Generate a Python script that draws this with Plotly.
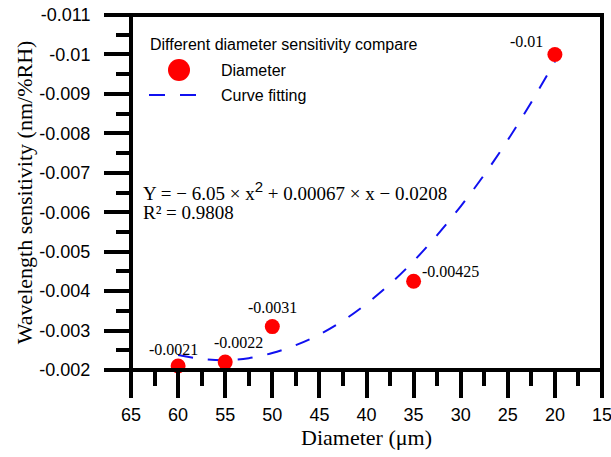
import plotly.graph_objects as go

# ---- data ----
diameter = [60, 55, 50, 35, 20]
sensitivity = [-0.0021, -0.0022, -0.0031, -0.00425, -0.01]
point_labels = ["-0.0021", "-0.0022", "-0.0031", "-0.00425", "-0.01"]

fit_x = [60, 57.5, 55, 52.5, 50, 47.5, 45, 42.5, 40, 37.5, 35, 32.5, 30, 27.5, 25, 22.5, 20]
fit_y = [-0.00238, -0.00228, -0.00225, -0.00230, -0.00243, -0.00263, -0.00290, -0.00325,
         -0.00368, -0.00418, -0.00476, -0.00542, -0.00615, -0.00695, -0.00783, -0.00879, -0.00982]

x_ticks = [65, 60, 55, 50, 45, 40, 35, 30, 25, 20, 15]
y_ticks = [-0.011, -0.010, -0.009, -0.008, -0.007, -0.006, -0.005, -0.004, -0.003, -0.002]
y_ticktext = ["-0.011", "-0.01", "-0.009", "-0.008", "-0.007", "-0.006", "-0.005", "-0.004", "-0.003", "-0.002"]

SERIF = "Liberation Serif, Times New Roman, serif"
SANS = "Liberation Sans, Arial, sans-serif"
RED = "#ff0000"
BLUE = "#1010f0"

# plot area in page pixels (reference): left 131, right 602, top 15, bottom 370
W, H = 611, 457
PL, PR, PT, PB = 131, 602, 15, 370
PW, PH = PR - PL, PB - PT

def px_x(p):
    return (p - PL) / PW
def px_y(p):
    return (PB - p) / PH

fig = go.Figure()
fig.add_trace(go.Scatter(x=fit_x, y=fit_y, mode="lines", line=dict(color=BLUE, width=2, dash="15px,15px", shape="spline"),
                         showlegend=False, hoverinfo="skip", cliponaxis=False))
fig.add_trace(go.Scatter(x=diameter, y=sensitivity, mode="markers", marker=dict(color=RED, size=15, line=dict(width=0)),
                         showlegend=False, cliponaxis=False))

# point labels
offsets = [(-5, 17, "center"), (13, 20, "center"), (0, 19, "center"), (6, 10, "left"), (-10, 13, "right")]
for xv, yv, txt, (dx, dy, al) in zip(diameter, sensitivity, point_labels, offsets):
    fig.add_annotation(x=xv, y=yv, text=txt, showarrow=False, xshift=dx, yshift=dy, xanchor=al,
                       font=dict(family=SERIF, size=16, color="black"))

# equation
fig.add_annotation(xref="paper", yref="paper", x=px_x(141), y=px_y(191), xanchor="left", yanchor="middle",
                   text="Y = − 6.05 × x<sup><span style='font-size:15px;font-family:Liberation Sans'>2</span></sup> + 0.00067 × x − 0.0208",
                   showarrow=False, font=dict(family=SERIF, size=19, color="black"))
fig.add_annotation(xref="paper", yref="paper", x=px_x(141), y=px_y(213), xanchor="left", yanchor="middle",
                   text="R² = 0.9808", showarrow=False, font=dict(family=SERIF, size=19, color="black"))

# manual legend
fig.add_annotation(xref="paper", yref="paper", x=px_x(148), y=px_y(44), xanchor="left", yanchor="middle",
                   text="Different diameter sensitivity compare", showarrow=False,
                   font=dict(family=SANS, size=16, color="black"))
fig.add_annotation(xref="paper", yref="paper", x=px_x(219), y=px_y(70), xanchor="left", yanchor="middle",
                   text="Diameter", showarrow=False, font=dict(family=SANS, size=16, color="black"))
fig.add_annotation(xref="paper", yref="paper", x=px_x(219), y=px_y(95), xanchor="left", yanchor="middle",
                   text="Curve fitting", showarrow=False, font=dict(family=SANS, size=16, color="black"))
fig.add_shape(type="circle", xref="paper", yref="paper", xsizemode="pixel", ysizemode="pixel",
              xanchor=px_x(179), yanchor=px_y(70), x0=-11, x1=11, y0=-11, y1=11,
              fillcolor=RED, line=dict(width=0))
fig.add_shape(type="line", xref="paper", yref="paper", x0=px_x(149), x1=px_x(196), y0=px_y(95), y1=px_y(95),
              line=dict(color=BLUE, width=2, dash="16px,15px"))

# plot frame, centred on the plot-area edges
fig.add_shape(type="rect", xref="paper", yref="paper", x0=0, x1=1, y0=0, y1=1,
              line=dict(color="black", width=4), fillcolor="rgba(0,0,0,0)", layer="above")

axis_common = dict(showgrid=False, zeroline=False, showline=False,
                   ticks="outside", tickwidth=4, tickcolor="black", automargin=False, ticklabeloverflow="allow")

fig.update_xaxes(range=[65, 15], tickvals=x_ticks, ticklen=27,
                 minor=dict(dtick=2.5, ticks="outside", ticklen=15, tickwidth=4, tickcolor="black", showgrid=False),
                 tickfont=dict(family=SANS, size=18, color="black"), ticklabelstandoff=1,
                 title=dict(text="Diameter (μm)", font=dict(family=SERIF, size=22, color="black"), standoff=4),
                 **axis_common)
fig.update_yaxes(range=[-0.002, -0.011], tickvals=y_ticks, ticktext=y_ticktext, ticklen=26,
                 minor=dict(dtick=0.0005, ticks="outside", ticklen=14, tickwidth=4, tickcolor="black", showgrid=False),
                 tickfont=dict(family=SANS, size=18, color="black"), ticklabelstandoff=10,
                 title=dict(text="Wavelength sensitivity (nm/%RH)", font=dict(family=SERIF, size=22, color="black"), standoff=0),
                 **axis_common)

fig.update_layout(width=W, height=H, autosize=False,
                  margin=dict(l=PL, r=W - PR, t=PT, b=H - PB),
                  paper_bgcolor="white", plot_bgcolor="white", showlegend=False)

# remove the default 8px page margin so the figure sits at the window origin; hide the mode bar
fig.write_html("out.html", config={"displayModeBar": False},
               post_script="document.body.style.margin='0';document.body.style.overflow='hidden';")
